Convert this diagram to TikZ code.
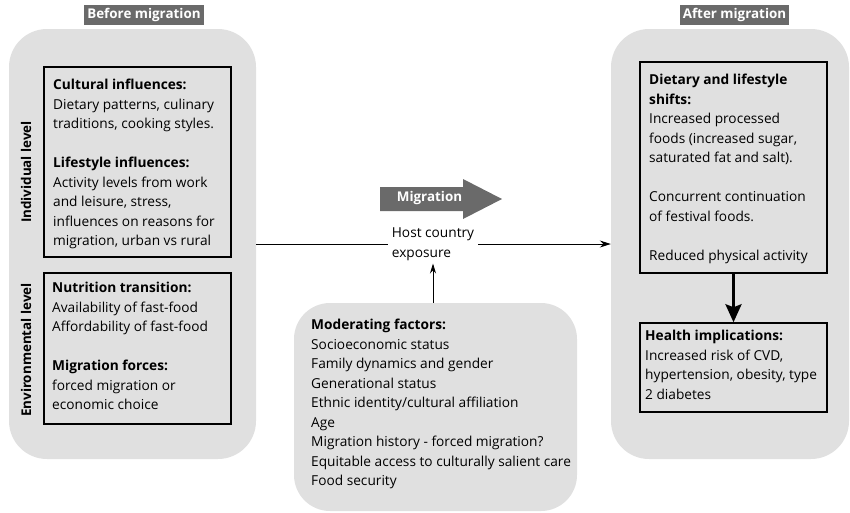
\documentclass[tikz,border=0pt]{standalone}
\usepackage{fontspec}
\setmainfont{Open Sans}
\usetikzlibrary{arrows.meta}
\definecolor{panelgray}{HTML}{E0E0E0}
\definecolor{taggray}{HTML}{6A6A6A}
\begin{document}
\begin{tikzpicture}[x=1pt,y=-1pt,
  panel/.style={fill=panelgray, draw=none, rounded corners=38pt, inner sep=0pt},
  tag/.style={fill=taggray, text=white, font=\fontsize{13.4}{15}\selectfont\bfseries, inner xsep=3pt, inner ysep=3pt},
  framebox/.style={draw=black, line width=1.5pt, inner sep=0pt},
  body/.style={anchor=north west, align=left, inner sep=0pt, font=\fontsize{13.7}{19.5}\selectfont},
  sidelabel/.style={rotate=90, font=\fontsize{13.4}{16}\selectfont\bfseries, inner sep=0pt},
  link/.style={line width=0.9pt, -{Stealth[length=11pt,width=7pt]}}
]
\useasboundingbox (0,0) rectangle (850,512);

% --- large panels ---
\node[panel, minimum width=247pt, minimum height=430pt] (before) at (132.5,244) {};
\node[panel, minimum width=238pt, minimum height=430pt] (after) at (730,244) {};
\node[panel, rounded corners=36pt, minimum width=283pt, minimum height=208pt] (moder) at (435.5,407) {};

% --- panel headings ---
\node[tag] (beforetag) at (144,15) {Before migration};
\node[tag] (aftertag) at (734.5,15) {After migration};

% --- framed boxes ---
\node[framebox, minimum width=187pt, minimum height=190pt] (indiv) at (137.5,162) {};
\node[framebox, minimum width=187pt, minimum height=151pt] (envir) at (137.5,348.5) {};
\node[framebox, minimum width=187pt, minimum height=211pt] (diet) at (733.5,167.5) {};
\node[framebox, minimum width=187pt, minimum height=89pt] (health) at (733.5,367.5) {};

% --- level labels ---
\node[sidelabel] (indivlab) at (26,172) {Individual level};
\node[sidelabel] (envirlab) at (26,350) {Environmental level};

% --- box texts ---
\node[body] (indivtxt) at (53,79.3) {\textbf{Cultural influences:}\\
Dietary patterns, culinary\\
traditions, cooking styles.\\[19.5pt]
\textbf{Lifestyle influences:}\\
Activity levels from work\\
and leisure, stress,\\
influences on reasons for\\
migration, urban vs rural};

\node[body] (envirtxt) at (52,282.3) {\textbf{Nutrition transition:}\\
Availability of fast-food\\
Affordability of fast-food\\[19.5pt]
\textbf{Migration forces:}\\
forced migration or\\
economic choice};

\node[body] (diettxt) at (649,74.3) {\textbf{Dietary and lifestyle}\\
\textbf{shifts:}\\
Increased processed\\
foods (increased sugar,\\
saturated fat and salt).\\[19.5pt]
Concurrent continuation\\
of festival foods.\\[19.5pt]
Reduced physical activity};

\node[body] (healthtxt) at (645,330.3) {\textbf{Health implications:}\\
Increased risk of CVD,\\
hypertension, obesity, type\\
2 diabetes};

\node[body] (modertxt) at (311,319.3) {\textbf{Moderating factors:}\\
Socioeconomic status\\
Family dynamics and gender\\
Generational status\\
Ethnic identity/cultural affiliation\\
Age\\
Migration history - forced migration?\\
Equitable access to culturally salient care\\
Food security};

% --- migration arrow ---
\fill[taggray] (380,187) -- (463,187) -- (463,179) -- (502,199) -- (463,219)
  -- (463,211) -- (380,211) -- cycle;
\node[font=\fontsize{13.4}{15}\selectfont\bfseries, text=white, inner sep=0pt] (migr) at (429.5,198) {Migration};

% --- host country exposure ---
\node[align=left, font=\fontsize{13.7}{19.5}\selectfont, inner xsep=4pt, inner ysep=3pt] (host) at (433,244) {Host country\\exposure};

% --- connectors ---
\draw[line width=0.9pt] (before.east) -- (before.east -| host.west);
\draw[link] (host.east |- after.west) -- (after.west);
\draw[line width=0.9pt, -{Stealth[length=10pt,width=6pt]}] (moder.north -| host.south) -- (host.south);
\draw[line width=3pt, -{Stealth[length=18pt,width=16pt,inset=3pt]}] (diet.south) -- (health.north);
\end{tikzpicture}
\end{document}
